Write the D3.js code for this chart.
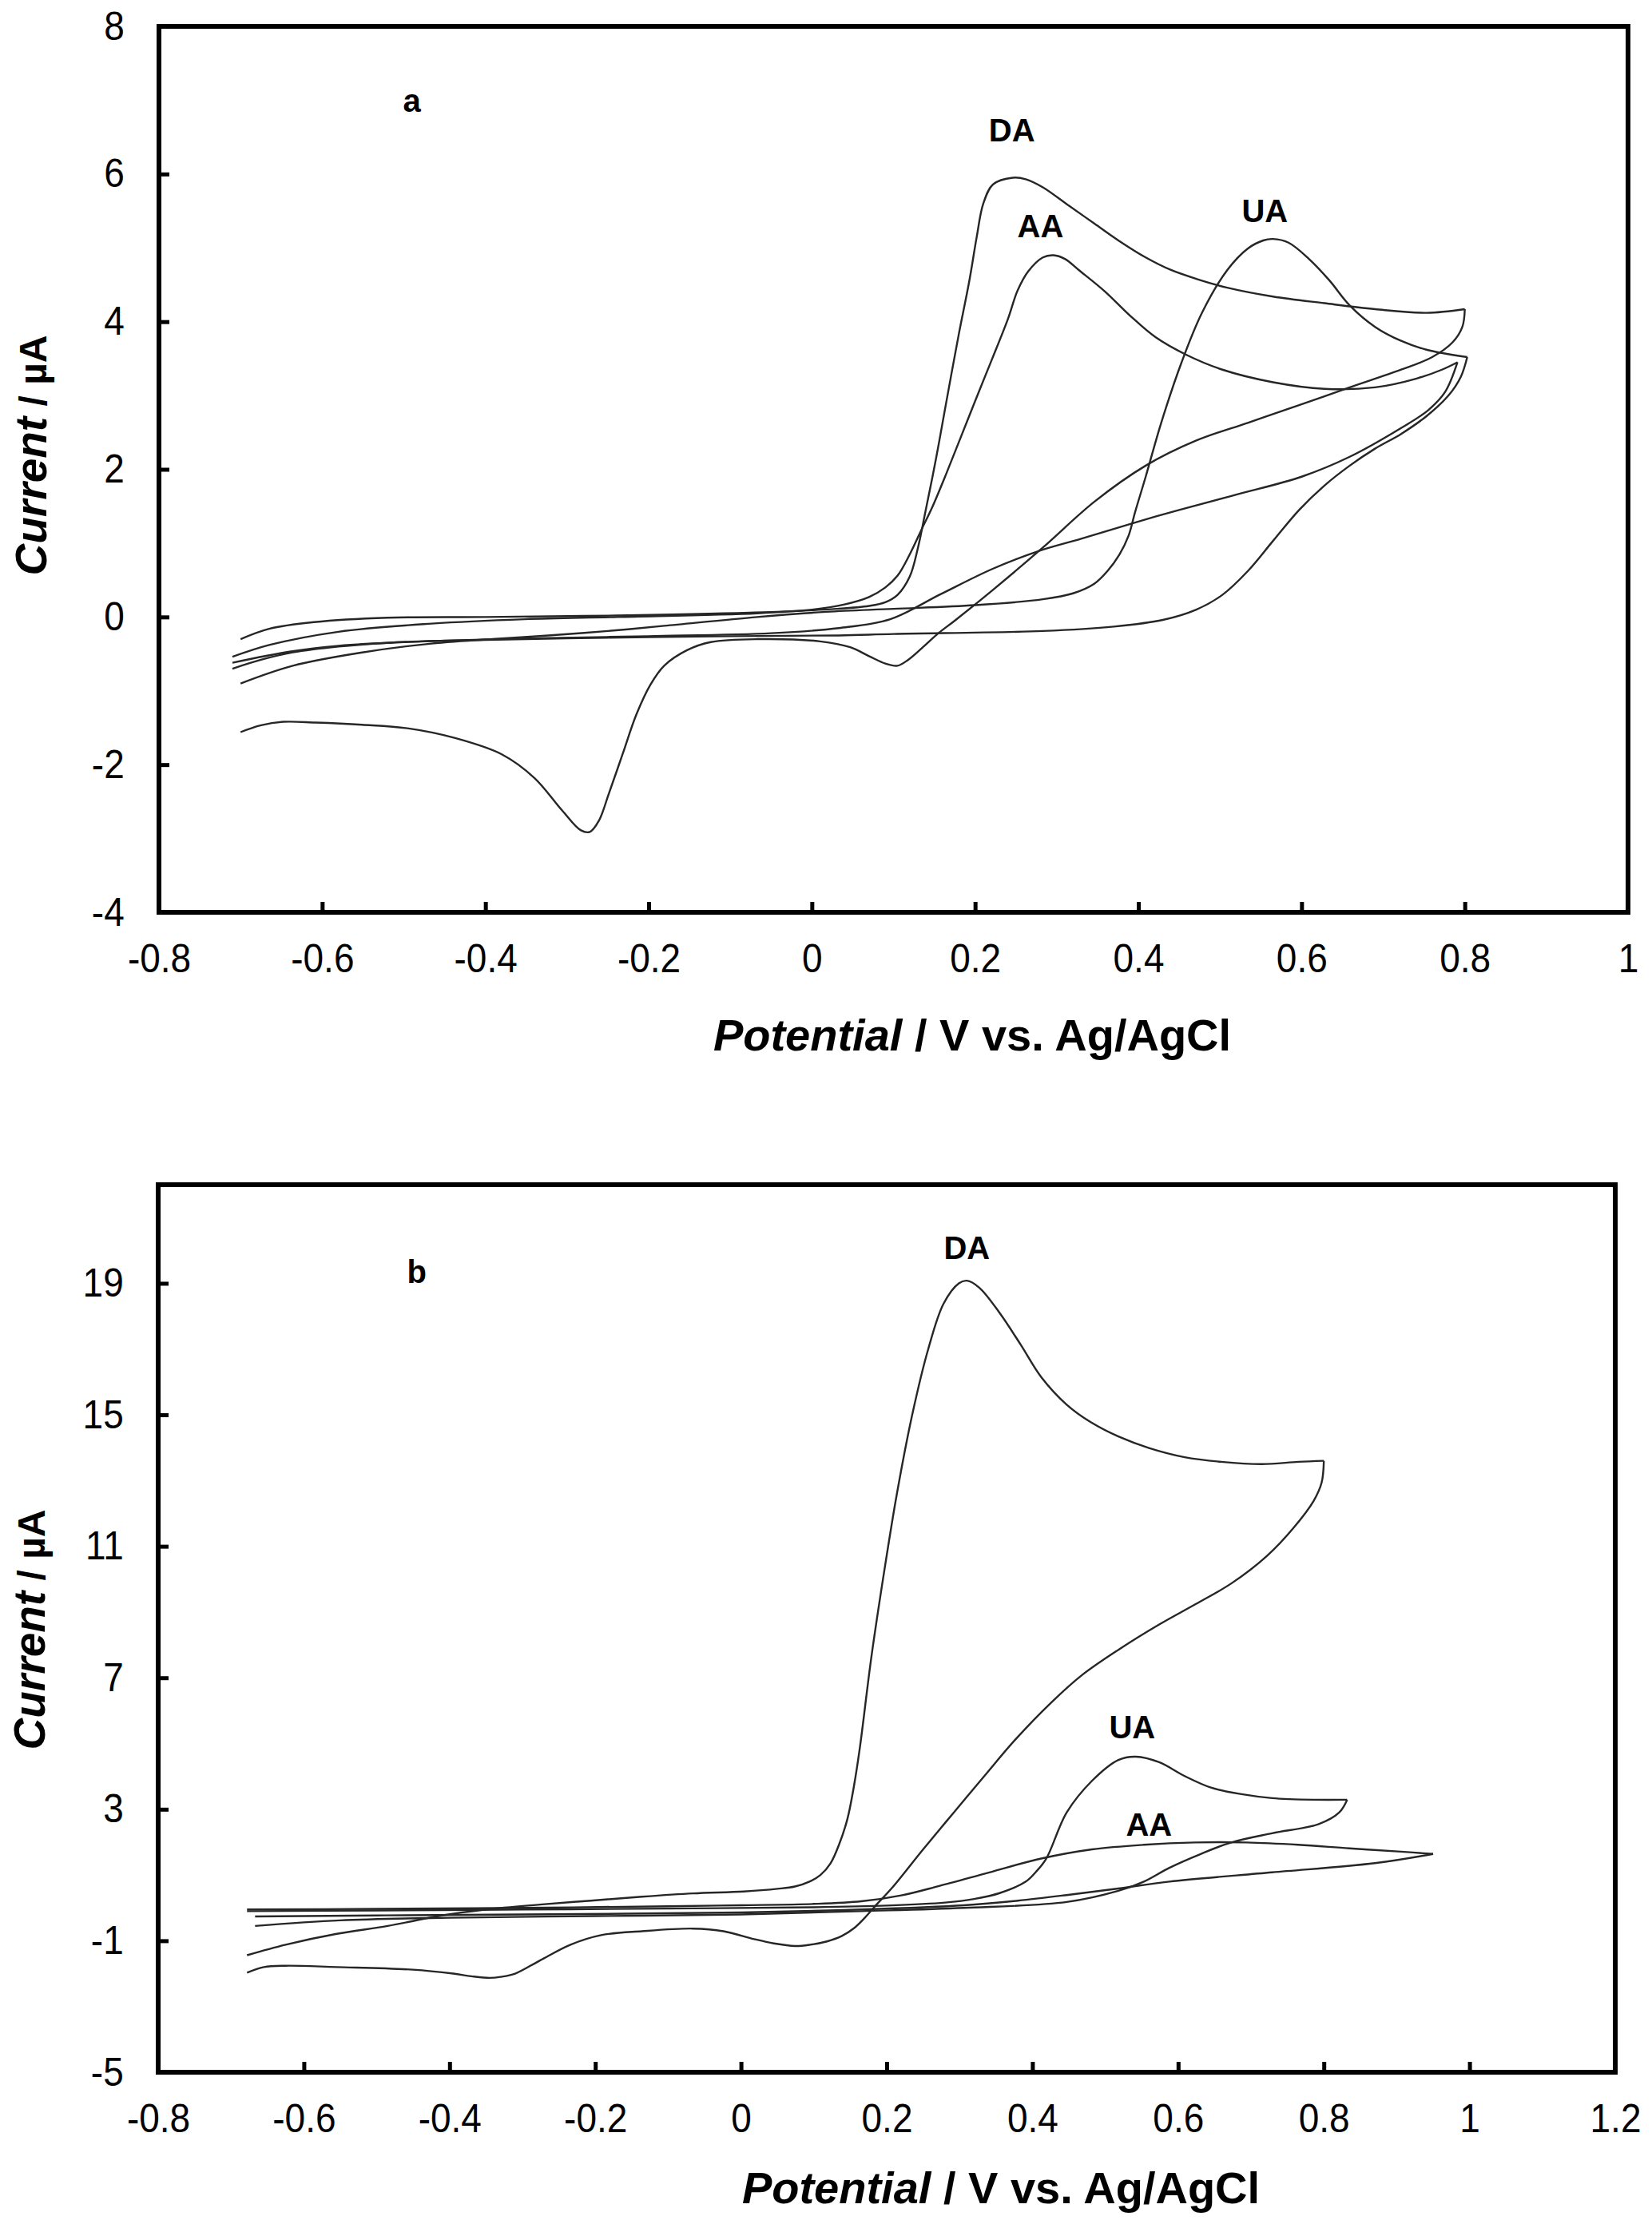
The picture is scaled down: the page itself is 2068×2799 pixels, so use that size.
<!DOCTYPE html>
<html lang="en">
<head>
<meta charset="UTF-8">
<title>Cyclic voltammograms: DA, AA, UA</title>
<script src="https://d3js.org/d3.v7.min.js"></script>
<style>
  body { margin: 0; background: #fff; }
  svg text { font-family: "Liberation Sans", Arial, sans-serif; fill: #000; }
</style>
</head>
<body>
<div id="chart"></div>
<script>
// ---- tick values ----
const aXTicks = [-0.8, -0.6, -0.4, -0.2, 0, 0.2, 0.4, 0.6, 0.8, 1];
const aYTicks = [-4, -2, 0, 2, 4, 6, 8];
const bXTicks = [-0.8, -0.6, -0.4, -0.2, 0, 0.2, 0.4, 0.6, 0.8, 1, 1.2];
const bYTicks = [-5, -1, 3, 7, 11, 15, 19];

// ---- panel a : [potential (V), current (µA)] ----
const aDA_fwd = [[-0.70,-0.30],[-0.665,-0.16],[-0.61,-0.07],[-0.52,-0.01],[-0.40,0.00],[-0.24,0.02],[-0.07,0.06],[0.03,0.11],[0.07,0.15],[0.09,0.20],[0.105,0.30],[0.12,0.55],[0.13,0.94],[0.139,1.42],[0.152,2.14],[0.164,2.87],[0.18,3.83],[0.193,4.56],[0.202,5.15],[0.21,5.6],[0.222,5.86],[0.246,5.95],[0.262,5.93],[0.283,5.82],[0.315,5.57],[0.346,5.33],[0.377,5.09],[0.409,4.87],[0.44,4.70],[0.471,4.58],[0.509,4.46],[0.565,4.34],[0.628,4.25],[0.69,4.17],[0.753,4.12],[0.80,4.17]];
const aDA_rev = [[0.80,4.17],[0.797,3.93],[0.785,3.72],[0.76,3.52],[0.722,3.35],[0.659,3.11],[0.597,2.87],[0.534,2.63],[0.471,2.39],[0.409,2.05],[0.346,1.56],[0.283,0.94],[0.221,0.36],[0.175,-0.05],[0.155,-0.22],[0.135,-0.42],[0.118,-0.58],[0.105,-0.66],[0.09,-0.63],[0.07,-0.53],[0.047,-0.41],[0.01,-0.33],[-0.067,-0.30],[-0.124,-0.34],[-0.153,-0.45],[-0.181,-0.66],[-0.198,-0.92],[-0.215,-1.32],[-0.232,-1.86],[-0.249,-2.40],[-0.261,-2.76],[-0.272,-2.91],[-0.283,-2.89],[-0.306,-2.62],[-0.34,-2.18],[-0.38,-1.86],[-0.437,-1.64],[-0.494,-1.51],[-0.551,-1.46],[-0.608,-1.43],[-0.648,-1.42],[-0.676,-1.47],[-0.70,-1.56]];
const aAA_fwd = [[-0.71,-0.54],[-0.665,-0.38],[-0.58,-0.20],[-0.466,-0.09],[-0.352,-0.03],[-0.238,0.00],[-0.067,0.05],[0.0,0.10],[0.04,0.17],[0.07,0.27],[0.09,0.40],[0.105,0.56],[0.12,0.85],[0.135,1.2],[0.148,1.5],[0.165,1.95],[0.183,2.45],[0.202,2.98],[0.221,3.5],[0.24,4.03],[0.252,4.42],[0.265,4.68],[0.283,4.87],[0.296,4.90],[0.31,4.85],[0.327,4.70],[0.359,4.41],[0.39,4.08],[0.421,3.79],[0.459,3.55],[0.503,3.35],[0.565,3.18],[0.628,3.09],[0.69,3.11],[0.741,3.23],[0.772,3.35],[0.791,3.45]];
const aAA_rev = [[0.791,3.45],[0.776,3.05],[0.755,2.8],[0.722,2.56],[0.659,2.17],[0.6,1.9],[0.521,1.66],[0.45,1.45],[0.396,1.28],[0.33,1.06],[0.277,0.89],[0.221,0.65],[0.158,0.31],[0.096,-0.03],[0.033,-0.15],[-0.05,-0.22],[-0.2,-0.26],[-0.35,-0.29],[-0.45,-0.32],[-0.52,-0.35],[-0.58,-0.40],[-0.636,-0.48],[-0.675,-0.58],[-0.71,-0.70]];
const aUA_fwd = [[-0.70,-0.90],[-0.636,-0.66],[-0.551,-0.48],[-0.466,-0.36],[-0.38,-0.29],[-0.323,-0.25],[-0.25,-0.19],[-0.181,-0.12],[-0.067,0.0],[0.018,0.07],[0.10,0.11],[0.2,0.16],[0.283,0.24],[0.32,0.32],[0.346,0.45],[0.362,0.62],[0.377,0.85],[0.388,1.1],[0.396,1.42],[0.409,1.9],[0.428,2.63],[0.453,3.45],[0.478,4.12],[0.509,4.7],[0.534,4.99],[0.553,5.1],[0.565,5.12],[0.584,5.07],[0.609,4.85],[0.634,4.56],[0.659,4.22],[0.69,3.93],[0.722,3.74],[0.753,3.62],[0.803,3.52]];
const aUA_rev = [[0.803,3.52],[0.795,3.25],[0.78,3.0],[0.753,2.72],[0.722,2.48],[0.69,2.28],[0.659,2.05],[0.628,1.78],[0.597,1.45],[0.565,1.03],[0.534,0.62],[0.503,0.30],[0.471,0.10],[0.43,-0.04],[0.37,-0.13],[0.283,-0.19],[0.1,-0.23],[0.033,-0.25],[-0.1,-0.26],[-0.25,-0.28],[-0.4,-0.31],[-0.5,-0.34],[-0.58,-0.39],[-0.64,-0.47],[-0.71,-0.62]];

// ---- panel b ----
const bDA_fwd = [[-0.678,-1.44],[-0.625,-1.12],[-0.555,-0.79],[-0.485,-0.55],[-0.415,-0.25],[-0.35,-0.05],[-0.276,0.10],[-0.206,0.22],[-0.136,0.34],[-0.066,0.44],[0.004,0.50],[0.05,0.58],[0.074,0.65],[0.094,0.80],[0.109,1.0],[0.123,1.36],[0.135,1.95],[0.146,2.7],[0.155,3.7],[0.163,4.85],[0.179,7.64],[0.197,10.3],[0.214,12.6],[0.235,15.0],[0.257,17.0],[0.278,18.38],[0.299,19.0],[0.31,19.08],[0.327,18.87],[0.355,18.1],[0.384,17.13],[0.412,16.15],[0.447,15.31],[0.482,14.75],[0.518,14.34],[0.56,13.99],[0.609,13.71],[0.659,13.57],[0.715,13.5],[0.765,13.57],[0.80,13.6]];
const bDA_rev = [[0.80,13.6],[0.797,12.94],[0.786,12.38],[0.758,11.55],[0.722,10.71],[0.673,9.87],[0.624,9.24],[0.574,8.62],[0.518,7.85],[0.468,7.08],[0.426,6.25],[0.377,5.13],[0.334,4.01],[0.292,2.9],[0.25,1.78],[0.207,0.6],[0.186,0.1],[0.17,-0.3],[0.155,-0.62],[0.138,-0.86],[0.118,-1.02],[0.095,-1.12],[0.074,-1.16],[0.045,-1.08],[0.018,-0.95],[-0.024,-0.71],[-0.066,-0.63],[-0.136,-0.71],[-0.192,-0.83],[-0.234,-1.12],[-0.276,-1.6],[-0.31,-2.0],[-0.33,-2.1],[-0.345,-2.13],[-0.37,-2.08],[-0.395,-2.0],[-0.45,-1.88],[-0.555,-1.8],[-0.625,-1.76],[-0.655,-1.8],[-0.678,-1.97]];
const bAA_fwd = [[-0.678,-0.05],[-0.5,-0.03],[-0.3,0.0],[-0.1,0.05],[0.0,0.08],[0.1,0.12],[0.165,0.2],[0.22,0.38],[0.271,0.66],[0.341,1.08],[0.412,1.5],[0.482,1.78],[0.553,1.92],[0.623,1.99],[0.694,1.99],[0.765,1.92],[0.835,1.81],[0.906,1.71],[0.95,1.64]];
const bAA_rev = [[0.95,1.64],[0.87,1.36],[0.729,1.08],[0.588,0.80],[0.518,0.59],[0.447,0.39],[0.38,0.22],[0.306,0.08],[0.165,-0.05],[0.0,-0.14],[-0.3,-0.2],[-0.5,-0.23],[-0.667,-0.26]];
const bUA_fwd = [[-0.678,-0.1],[-0.5,-0.08],[-0.3,-0.05],[-0.1,-0.02],[0.1,0.02],[0.2,0.07],[0.28,0.16],[0.32,0.27],[0.355,0.45],[0.391,0.8],[0.405,1.1],[0.419,1.5],[0.447,2.9],[0.482,3.87],[0.518,4.5],[0.542,4.6],[0.574,4.43],[0.609,4.01],[0.645,3.66],[0.687,3.46],[0.729,3.34],[0.786,3.29],[0.832,3.29]];
const bUA_rev = [[0.832,3.29],[0.821,2.9],[0.793,2.55],[0.729,2.27],[0.673,1.99],[0.631,1.64],[0.588,1.22],[0.553,0.8],[0.518,0.52],[0.447,0.18],[0.306,0.0],[0.165,-0.1],[0.0,-0.2],[-0.2,-0.25],[-0.4,-0.3],[-0.55,-0.38],[-0.667,-0.55]];

// ---- annotations (data units) ----
const aNotes = [{t: 'a', x: -0.49, y: 7.0}, {t: 'DA', x: 0.245, y: 6.6}, {t: 'AA', x: 0.28, y: 5.3}, {t: 'UA', x: 0.555, y: 5.5}];
const bNotes = [{t: 'b', x: -0.445, y: 19.35}, {t: 'DA', x: 0.31, y: 20.1}, {t: 'UA', x: 0.537, y: 5.5}, {t: 'AA', x: 0.56, y: 2.55}];

// layout
const W = 2068, H = 2799;
const svg = d3.select('#chart').append('svg')
    .attr('width', W).attr('height', H);

const fmt = d => d === 0 ? '0' : String(+d.toFixed(1));

function drawPanel(p) {
    const x = d3.scaleLinear().domain(p.xDomain).range([p.left, p.right]);
    const y = d3.scaleLinear().domain(p.yDomain).range([p.bottom, p.top]);
    const g = svg.append('g');

    // curves
    const line = d3.line()
        .x(d => x(d[0]))
        .y(d => y(d[1]))
        .curve(d3.curveCatmullRom.alpha(0.5));
    g.selectAll('path.cv')
        .data(p.curves)
        .enter()
        .append('path')
        .attr('class', 'cv')
        .attr('d', line)
        .attr('fill', 'none')
        .attr('stroke', '#262626')
        .attr('stroke-width', 2.4);

    // x axis, ticks pointing inward
    const xa = g.append('g')
        .attr('transform', `translate(0,${p.bottom})`)
        .call(d3.axisBottom(x).tickValues(p.xTicks).tickFormat(fmt)
            .tickSizeInner(-13).tickSizeOuter(0).tickPadding(40));
    // y axis
    const ya = g.append('g')
        .attr('transform', `translate(${p.left},0)`)
        .call(d3.axisLeft(y).tickValues(p.yTicks).tickFormat(fmt)
            .tickSizeInner(-13).tickSizeOuter(0).tickPadding(47));
    [xa, ya].forEach(ax => {
        ax.select('.domain').remove();
        ax.selectAll('line').attr('stroke', '#000').attr('stroke-width', 5);
        ax.selectAll('text')
            .attr('font-size', 50)
            .attr('font-family', '"Liberation Sans", Arial, sans-serif')
            .attr('fill', '#000')
            .attr('transform', 'scale(0.92,1)');
    });

    // frame
    g.append('rect')
        .attr('x', p.left).attr('y', p.top)
        .attr('width', p.right - p.left).attr('height', p.bottom - p.top)
        .attr('fill', 'none')
        .attr('stroke', '#000')
        .attr('stroke-width', 6);

    // peak labels
    g.selectAll('text.note')
        .data(p.notes)
        .enter()
        .append('text')
        .attr('class', 'note')
        .attr('x', d => x(d.x))
        .attr('y', d => y(d.y))
        .attr('dy', '0.36em')
        .attr('text-anchor', 'middle')
        .attr('font-size', 40)
        .attr('font-weight', 'bold')
        .text(d => d.t);

    // x axis title
    const xt = g.append('text')
        .attr('x', p.xTitleX)
        .attr('y', p.xTitleY)
        .attr('text-anchor', 'middle')
        .attr('font-size', 56)
        .attr('font-weight', 'bold');
    xt.append('tspan').attr('font-style', 'italic').text('Potential');
    xt.append('tspan').text(' / V vs. Ag/AgCl');

    // y axis title
    const yt = g.append('text')
        .attr('transform', `translate(${p.yTitleX},${p.yTitleY}) rotate(-90)`)
        .attr('text-anchor', 'middle')
        .attr('dy', '0.35em')
        .attr('font-weight', 'bold');
    yt.append('tspan').attr('font-size', 55).attr('font-style', 'italic').text('Current');
    yt.append('tspan').attr('font-size', 48).text(' / µA');
}

drawPanel({
    left: 199, right: 2038, top: 33, bottom: 1142,
    xDomain: [-0.8, 1], yDomain: [-4, 8],
    xTicks: aXTicks, yTicks: aYTicks,
    curves: [aDA_fwd, aDA_rev, aAA_fwd, aAA_rev, aUA_fwd, aUA_rev],
    notes: aNotes,
    xTitleX: 1217, xTitleY: 1315,
    yTitleX: 52, yTitleY: 570
});

drawPanel({
    left: 198, right: 2022, top: 1483, bottom: 2594,
    xDomain: [-0.8, 1.2], yDomain: [-5, 22],
    xTicks: bXTicks, yTicks: bYTicks,
    curves: [bDA_fwd, bDA_rev, bAA_fwd, bAA_rev, bUA_fwd, bUA_rev],
    notes: bNotes,
    xTitleX: 1253, xTitleY: 2758,
    yTitleX: 50, yTitleY: 2040
});
</script>
</body>
</html>
